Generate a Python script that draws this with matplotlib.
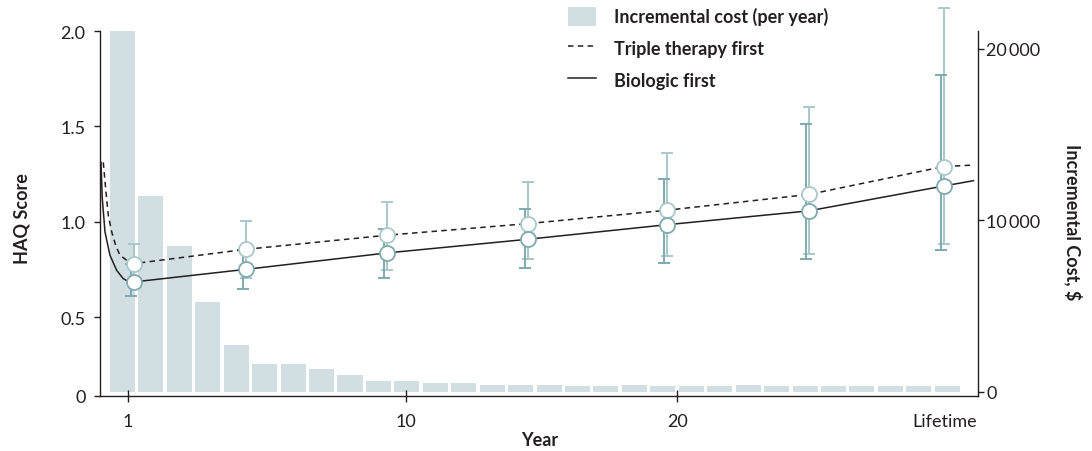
import numpy as np
import matplotlib
matplotlib.use("Agg")
import matplotlib.pyplot as plt
from matplotlib.patches import Patch
from matplotlib.lines import Line2D

plt.rcParams['font.family'] = ['Lato', 'DejaVu Sans']

# incremental cost per year bin ($), one bar per bin
cost = [21500, 11400, 8490, 5220, 2720, 1630, 1630, 1320, 975, 625,
        625, 525, 525, 390, 390, 390, 330, 330, 390, 330,
        330, 330, 390, 330, 330, 330, 330, 330, 330, 330]

# x axis is in bar-bin units
xtick_pos = [0.18, 9.97, 19.5, 28.9]
xtick_labels = ['1', '10', '20', 'Lifetime']

# HAQ estimates with intervals
haq_x = [0.39, 4.33, 9.29, 14.26, 19.13, 24.14, 28.87]
triple_mean = [0.780, 0.855, 0.929, 0.990, 1.060, 1.143, 1.289]
triple_lo = [0.700, 0.707, 0.745, 0.807, 0.821, 0.831, 0.882]
triple_hi = [0.885, 1.005, 1.105, 1.210, 1.362, 1.599, 2.121]
bio_mean = [0.684, 0.750, 0.836, 0.908, 0.984, 1.057, 1.187]
bio_lo = [0.608, 0.649, 0.707, 0.758, 0.785, 0.803, 0.850]
bio_hi = [0.780, 0.850, 0.964, 1.069, 1.222, 1.511, 1.769]

# early part of the modelled curves (before first estimate) and end value
triple_start_x = [-0.675, -0.580, -0.499, -0.380, -0.239, -0.088, 0.148]
triple_start_y = [1.311, 1.157, 1.034, 0.947, 0.876, 0.824, 0.798]
bio_start_x = [-0.756, -0.710, -0.615, -0.440, -0.204, 0.028, 0.204]
bio_start_y = [1.311, 1.122, 0.947, 0.824, 0.745, 0.701, 0.687]
end_x = 29.92
triple_end = 1.297
bio_end = 1.215

haq_ticks = [0.5, 1.0, 1.5, 2.0]
haq_bottom = 0.086  # axis floor drawn as "0" in the figure
cost_ticks = [0, 10000, 20000]

ink = '#231f20'
bar_col = '#d1dfe2'
light = '#a9c8cc'
dark = '#80aab0'
fs = 13

fig = plt.figure(figsize=(10.92, 4.52), dpi=100)
ax = fig.add_axes([100 / 1092, 55 / 452, 878 / 1092, 365 / 452])
ax2 = ax.twinx()
ax.set_zorder(ax2.get_zorder() + 1)
ax.patch.set_visible(False)

# bars on cost axis
ax2.bar(np.arange(len(cost)), cost, width=0.88, color=bar_col, linewidth=0)
ax2.set_ylim(-233, 21025)
ax2.set_yticks(cost_ticks, ['0', '10\u2009000', '20\u2009000'])

# lines
tx = triple_start_x + haq_x + [end_x]
ty = triple_start_y + triple_mean + [triple_end]
bx = bio_start_x + haq_x + [end_x]
by = bio_start_y + bio_mean + [bio_end]
ax.plot(tx, ty, color=ink, lw=1.1, linestyle=(0, (3.6, 2.8)), zorder=3)
ax.plot(bx, by, color=ink, lw=1.1, zorder=3)

# error bars
tm = np.array(triple_mean)
bm = np.array(bio_mean)
eb1 = ax.errorbar(np.array(haq_x), tm, yerr=[tm - np.array(triple_lo), np.array(triple_hi) - tm],
                  fmt='none', ecolor=light, elinewidth=1.4, capsize=4.2, capthick=1.4, zorder=2)
eb2 = ax.errorbar(np.array(haq_x) - 0.1, bm, yerr=[bm - np.array(bio_lo), np.array(bio_hi) - bm],
                  fmt='none', ecolor=dark, elinewidth=1.4, capsize=4.2, capthick=1.4, zorder=2)
for eb in (eb1, eb2):
    for child in eb.get_children():
        child.set_clip_on(False)

ax.plot(haq_x, triple_mean, 'o', ms=10.8, mfc='white', mec=light, mew=1.3, zorder=4, clip_on=False)
ax.plot(haq_x, bio_mean, 'o', ms=10.8, mfc='white', mec=dark, mew=1.3, zorder=5, clip_on=False)

ax.set_xlim(-0.79, 30.08)
ax.set_ylim(haq_bottom, 2.0)
ax.set_yticks([haq_bottom] + haq_ticks, ['0', '0.5', '1.0', '1.5', '2.0'])
ax.set_xticks(xtick_pos, xtick_labels)
ax.xaxis.get_major_ticks()[3].tick1line.set_visible(False)

for a in (ax, ax2):
    a.spines['top'].set_visible(False)
    for s in a.spines.values():
        s.set_color(ink)
        s.set_linewidth(1.0)
ax.spines['right'].set_visible(False)
ax2.spines['left'].set_visible(False)
ax2.spines['bottom'].set_visible(False)

ax.tick_params(axis='y', direction='out', length=4.5, width=1.0, color=ink,
               labelsize=fs, labelcolor=ink, pad=6)
ax.tick_params(axis='x', direction='inout', length=8, width=1.0, color=ink,
               labelsize=fs, labelcolor=ink, pad=8)
ax2.tick_params(axis='y', direction='out', length=4, width=1.0, color=ink,
                labelsize=fs, labelcolor=ink, pad=2)

ax.set_ylabel('HAQ Score', fontsize=fs, fontweight='bold', color=ink, va='center')
ax.yaxis.set_label_coords(-0.0888, 0.49)
ax.set_xlabel('Year', fontsize=fs, fontweight='bold', color=ink, va='center')
ax.xaxis.set_label_coords(0.501, -0.118)
ax2.set_ylabel('Incremental Cost, $', fontsize=fs, fontweight='bold', color=ink,
               rotation=-90, va='center')
ax2.yaxis.set_label_coords(1.108, 0.48)

handles = [Patch(facecolor=bar_col, edgecolor='none'),
           Line2D([], [], color=ink, lw=1.1, linestyle=(0, (3.6, 2.8))),
           Line2D([], [], color=ink, lw=1.1)]
labels = ['Incremental cost (per year)', 'Triple therapy first', 'Biologic first']
leg = ax.legend(handles, labels, loc='upper left', bbox_to_anchor=(568 / 1092, 1 - 8 / 452),
                bbox_transform=fig.transFigure, frameon=False, borderpad=0, borderaxespad=0,
                handlelength=1.55, handleheight=1.22, handletextpad=1.0, labelspacing=0.72,
                prop={'weight': 'bold', 'size': fs})
for t in leg.get_texts():
    t.set_color(ink)

fig.savefig('out.png', dpi=100)
